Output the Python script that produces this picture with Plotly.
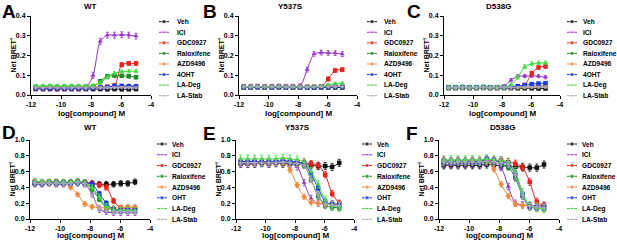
import plotly.graph_objects as go

# ---------------- data ----------------
LOG_DOSE = [-11.68, -11.20, -10.73, -10.25, -9.77, -9.29, -8.82, -8.34,
            -7.86, -7.38, -6.91, -6.43, -5.95, -5.48, -5.00]

SERIES_TOP = ["Veh", "ICI", "GDC0927", "Raloxifene", "AZD9496", "4OHT", "LA-Deg", "LA-Stab"]
SERIES_BOTTOM = ["Veh", "ICI", "GDC0927", "Raloxifene", "AZD9496", "OHT", "LA-Deg", "LA-Stab"]
PANEL_TITLES = ["WT", "Y537S", "D538G", "WT", "Y537S", "D538G"]
PANEL_LETTERS = ["A", "B", "C", "D", "E", "F"]
X_TICKS = [-12, -10, -8, -6, -4]
Y_TICKS_TOP = [0.0, 0.1, 0.2, 0.3, 0.4]
Y_TICKS_BOTTOM = [0.0, 0.2, 0.4, 0.6, 0.8, 1.0]

A_VALUES = {
    "Veh":        [0.031, 0.030, 0.031, 0.030, 0.030, 0.031, 0.030, 0.030, 0.030, 0.030, 0.029, 0.030, 0.029, 0.029, 0.030],
    "ICI":        [0.035, 0.036, 0.035, 0.035, 0.036, 0.035, 0.036, 0.037, 0.100, 0.272, 0.303, 0.303, 0.305, 0.303, 0.298],
    "GDC0927":    [0.036, 0.036, 0.037, 0.036, 0.036, 0.037, 0.036, 0.037, 0.038, 0.040, 0.042, 0.048, 0.153, 0.160, 0.160],
    "Raloxifene": [0.040, 0.040, 0.041, 0.040, 0.040, 0.041, 0.040, 0.041, 0.042, 0.070, 0.095, 0.098, 0.097, 0.095, 0.090],
    "AZD9496":    [0.040, 0.041, 0.040, 0.041, 0.040, 0.040, 0.041, 0.041, 0.042, 0.042, 0.043, 0.044, 0.045, 0.045, 0.045],
    "4OHT":       [0.035, 0.035, 0.035, 0.036, 0.035, 0.035, 0.036, 0.035, 0.036, 0.038, 0.040, 0.045, 0.046, 0.045, 0.044],
    "LA-Deg":     [0.046, 0.046, 0.047, 0.046, 0.046, 0.047, 0.046, 0.046, 0.048, 0.062, 0.090, 0.110, 0.118, 0.120, 0.120],
    "LA-Stab":    [0.036, 0.036, 0.037, 0.036, 0.036, 0.036, 0.037, 0.036, 0.037, 0.037, 0.037, 0.038, 0.038, 0.038, 0.037],
}
B_VALUES = {
    "Veh":        [0.038, 0.038, 0.039, 0.038, 0.038, 0.039, 0.038, 0.038, 0.038, 0.038, 0.037, 0.038, 0.038, 0.038, 0.038],
    "ICI":        [0.042, 0.042, 0.043, 0.042, 0.042, 0.043, 0.042, 0.042, 0.045, 0.128, 0.208, 0.215, 0.213, 0.212, 0.207],
    "GDC0927":    [0.041, 0.041, 0.042, 0.041, 0.041, 0.042, 0.041, 0.041, 0.041, 0.041, 0.041, 0.042, 0.081, 0.124, 0.128],
    "Raloxifene": [0.040, 0.040, 0.041, 0.040, 0.040, 0.041, 0.040, 0.040, 0.040, 0.040, 0.040, 0.041, 0.042, 0.043, 0.043],
    "AZD9496":    [0.041, 0.041, 0.042, 0.041, 0.041, 0.042, 0.041, 0.041, 0.041, 0.041, 0.042, 0.043, 0.048, 0.046, 0.045],
    "4OHT":       [0.040, 0.040, 0.041, 0.040, 0.040, 0.041, 0.040, 0.040, 0.040, 0.040, 0.040, 0.041, 0.042, 0.042, 0.042],
    "LA-Deg":     [0.042, 0.042, 0.043, 0.042, 0.042, 0.043, 0.042, 0.042, 0.042, 0.042, 0.043, 0.044, 0.050, 0.058, 0.060],
    "LA-Stab":    [0.041, 0.041, 0.042, 0.041, 0.041, 0.042, 0.041, 0.041, 0.041, 0.041, 0.041, 0.042, 0.042, 0.042, 0.042],
}
C_VALUES = {
    "Veh":        [0.035, 0.035, 0.036, 0.035, 0.035, 0.036, 0.035, 0.035, 0.035, 0.035, 0.034, 0.034, 0.034, 0.033, 0.033],
    "ICI":        [0.038, 0.038, 0.039, 0.038, 0.038, 0.039, 0.038, 0.038, 0.045, 0.075, 0.095, 0.096, 0.097, 0.095, 0.090],
    "GDC0927":    [0.037, 0.037, 0.038, 0.037, 0.037, 0.038, 0.037, 0.037, 0.038, 0.039, 0.042, 0.050, 0.110, 0.140, 0.145],
    "Raloxifene": [0.038, 0.038, 0.039, 0.038, 0.038, 0.039, 0.038, 0.038, 0.038, 0.039, 0.040, 0.042, 0.044, 0.045, 0.045],
    "AZD9496":    [0.038, 0.038, 0.039, 0.038, 0.038, 0.039, 0.038, 0.038, 0.039, 0.040, 0.041, 0.042, 0.044, 0.045, 0.045],
    "4OHT":       [0.039, 0.039, 0.040, 0.039, 0.039, 0.040, 0.039, 0.039, 0.040, 0.041, 0.045, 0.050, 0.055, 0.058, 0.060],
    "LA-Deg":     [0.039, 0.039, 0.040, 0.039, 0.039, 0.040, 0.039, 0.039, 0.040, 0.050, 0.090, 0.143, 0.158, 0.162, 0.163],
    "LA-Stab":    [0.037, 0.037, 0.038, 0.037, 0.037, 0.038, 0.037, 0.037, 0.038, 0.038, 0.039, 0.040, 0.040, 0.040, 0.040],
}
D_VALUES = {
    "Veh":        [0.45, 0.45, 0.46, 0.45, 0.45, 0.46, 0.47, 0.46, 0.45, 0.44, 0.44, 0.44, 0.45, 0.45, 0.47],
    "ICI":        [0.44, 0.44, 0.45, 0.44, 0.44, 0.45, 0.45, 0.44, 0.32, 0.12, 0.09, 0.08, 0.08, 0.08, 0.08],
    "GDC0927":    [0.47, 0.46, 0.46, 0.47, 0.46, 0.46, 0.47, 0.46, 0.45, 0.43, 0.40, 0.23, 0.14, 0.14, 0.14],
    "Raloxifene": [0.46, 0.46, 0.46, 0.46, 0.46, 0.46, 0.46, 0.45, 0.38, 0.25, 0.14, 0.12, 0.11, 0.11, 0.11],
    "AZD9496":    [0.47, 0.46, 0.47, 0.46, 0.45, 0.40, 0.31, 0.19, 0.155, 0.145, 0.14, 0.14, 0.14, 0.15, 0.15],
    "OHT":        [0.46, 0.45, 0.46, 0.46, 0.46, 0.45, 0.46, 0.45, 0.44, 0.32, 0.20, 0.12, 0.11, 0.11, 0.11],
    "LA-Deg":     [0.48, 0.47, 0.47, 0.47, 0.47, 0.47, 0.48, 0.46, 0.40, 0.28, 0.16, 0.12, 0.11, 0.11, 0.11],
    "LA-Stab":    [0.45, 0.45, 0.45, 0.45, 0.45, 0.45, 0.46, 0.44, 0.30, 0.14, 0.10, 0.09, 0.09, 0.09, 0.09],
}
E_VALUES = {
    "Veh":        [0.70, 0.70, 0.70, 0.71, 0.70, 0.71, 0.70, 0.70, 0.70, 0.69, 0.68, 0.67, 0.67, 0.66, 0.71],
    "ICI":        [0.70, 0.69, 0.70, 0.70, 0.70, 0.70, 0.71, 0.70, 0.66, 0.46, 0.26, 0.20, 0.19, 0.19, 0.19],
    "GDC0927":    [0.73, 0.72, 0.73, 0.72, 0.73, 0.72, 0.73, 0.72, 0.72, 0.71, 0.70, 0.68, 0.56, 0.32, 0.20],
    "Raloxifene": [0.72, 0.72, 0.72, 0.71, 0.72, 0.72, 0.72, 0.72, 0.71, 0.68, 0.50, 0.29, 0.17, 0.15, 0.14],
    "AZD9496":    [0.72, 0.72, 0.71, 0.72, 0.72, 0.72, 0.72, 0.62, 0.43, 0.28, 0.21, 0.20, 0.19, 0.19, 0.19],
    "OHT":        [0.73, 0.73, 0.73, 0.72, 0.73, 0.73, 0.74, 0.73, 0.72, 0.70, 0.57, 0.39, 0.22, 0.19, 0.18],
    "LA-Deg":     [0.76, 0.76, 0.76, 0.76, 0.76, 0.76, 0.77, 0.76, 0.75, 0.72, 0.60, 0.44, 0.24, 0.17, 0.16],
    "LA-Stab":    [0.71, 0.71, 0.71, 0.71, 0.71, 0.71, 0.72, 0.71, 0.70, 0.68, 0.50, 0.30, 0.19, 0.18, 0.17],
}
F_VALUES = {
    "Veh":        [0.68, 0.68, 0.68, 0.68, 0.68, 0.68, 0.69, 0.68, 0.67, 0.67, 0.66, 0.66, 0.65, 0.65, 0.69],
    "ICI":        [0.70, 0.69, 0.70, 0.70, 0.70, 0.70, 0.72, 0.70, 0.65, 0.41, 0.20, 0.18, 0.17, 0.17, 0.17],
    "GDC0927":    [0.74, 0.73, 0.74, 0.73, 0.74, 0.73, 0.74, 0.74, 0.74, 0.72, 0.70, 0.65, 0.47, 0.22, 0.17],
    "Raloxifene": [0.72, 0.72, 0.72, 0.72, 0.72, 0.72, 0.73, 0.72, 0.70, 0.66, 0.52, 0.29, 0.15, 0.14, 0.13],
    "AZD9496":    [0.73, 0.73, 0.73, 0.73, 0.73, 0.73, 0.74, 0.63, 0.44, 0.29, 0.19, 0.17, 0.17, 0.17, 0.16],
    "OHT":        [0.73, 0.73, 0.73, 0.73, 0.73, 0.73, 0.76, 0.74, 0.72, 0.70, 0.56, 0.31, 0.16, 0.15, 0.15],
    "LA-Deg":     [0.75, 0.75, 0.75, 0.75, 0.75, 0.75, 0.76, 0.75, 0.74, 0.72, 0.60, 0.34, 0.17, 0.14, 0.13],
    "LA-Stab":    [0.72, 0.72, 0.72, 0.72, 0.72, 0.72, 0.73, 0.72, 0.71, 0.69, 0.55, 0.30, 0.16, 0.15, 0.14],
}

# error bar half-widths (SEM), one per series, in series order
A_ERR = [0.004, 0.015, 0.010, 0.008, 0.005, 0.005, 0.008, 0.004]
B_ERR = [0.004, 0.012, 0.010, 0.004, 0.004, 0.004, 0.006, 0.004]
C_ERR = [0.004, 0.008, 0.010, 0.004, 0.004, 0.005, 0.010, 0.004]
D_ERR = [0.035, 0.035, 0.035, 0.030, 0.030, 0.030, 0.035, 0.030]
E_ERR = [0.045, 0.040, 0.040, 0.040, 0.035, 0.035, 0.050, 0.040]
F_ERR = [0.045, 0.040, 0.045, 0.040, 0.035, 0.040, 0.050, 0.040]

# ---------------- styles ----------------
COLORS = ["#111111", "#9333C8", "#E8231F", "#1E8A2A", "#F28A3A", "#1C3BE6", "#3EDB3E", "#A9A6B8"]
SYMBOLS = ["square", "triangle-up", "square", "square", "diamond", "square", "triangle-up", "triangle-down"]
FONT = "Liberation Sans, Arial, sans-serif"
W, H = 617, 240

# panel plot areas in pixels: (left, right, top, bottom)
PANELS = [
    (31, 151, 16, 95), (239, 357, 16, 95), (444, 560, 16, 95),
    (30, 150, 140, 219), (236, 354, 140, 219), (439, 559, 140, 219),
]
XTITLE_OFFSET = [18, 18, 18, 16, 16, 16]
LEGEND_POS = [  # (glyph center x, text x, first row y, row step)
    (164, 175, 21.7, 10.57), (372, 382, 21.7, 10.57), (572, 581, 21.7, 10.57),
    (162, 170, 144.0, 10.76), (367, 375, 144.0, 10.76), (572, 580, 144.0, 10.76),
]
TITLE_POS = [(90, 6), (290, 6), (498, 6), (90, 127), (297, 127), (502, 127)]
LETTER_POS = [(9, 11), (210, 11), (414, 11), (9, 132), (209, 133), (412, 133)]

ALL_VALUES = [A_VALUES, B_VALUES, C_VALUES, D_VALUES, E_VALUES, F_VALUES]
ALL_ERR = [A_ERR, B_ERR, C_ERR, D_ERR, E_ERR, F_ERR]

fig = go.Figure()
layout = dict(
    width=W, height=H, autosize=False,
    margin=dict(l=0, r=0, t=0, b=0, autoexpand=False),
    paper_bgcolor="white", plot_bgcolor="rgba(0,0,0,0)",
    showlegend=False, font=dict(family=FONT, color="black"),
)
annotations = []

for p in range(6):
    left, right, top, bottom = PANELS[p]
    n = "" if p == 0 else str(p + 1)
    top_row = p < 3
    names = SERIES_TOP if top_row else SERIES_BOTTOM
    values = ALL_VALUES[p]
    errs = ALL_ERR[p]
    layout["xaxis" + n] = dict(
        domain=[left / W, right / W], anchor="y" + n, range=[-12, -4],
        tickvals=X_TICKS, ticktext=[str(v) for v in X_TICKS],
        showline=True, linecolor="black", linewidth=1, mirror=False,
        ticks="outside", ticklen=3, tickwidth=1, tickcolor="black",
        showgrid=False, zeroline=False,
        tickfont=dict(size=7, family=FONT, weight="bold", color="black"),
    )
    yt = Y_TICKS_TOP if top_row else Y_TICKS_BOTTOM
    layout["yaxis" + n] = dict(
        domain=[1 - bottom / H, 1 - top / H], anchor="x" + n,
        range=[0, yt[-1]], tickvals=yt, ticktext=["%.1f" % v for v in yt],
        showline=True, linecolor="black", linewidth=1,
        ticks="outside", ticklen=3, tickwidth=1, tickcolor="black",
        showgrid=False, zeroline=False,
        tickfont=dict(size=7, family=FONT, weight="bold", color="black"),
    )
    for k, name in enumerate(names):
        fig.add_trace(go.Scatter(
            x=LOG_DOSE, y=values[name], xaxis="x" + n, yaxis="y" + n,
            mode="lines+markers", line=dict(color=COLORS[k], width=1, shape="spline", smoothing=0.8),
            marker=dict(symbol=SYMBOLS[k], size=4.5, color=COLORS[k]),
            error_y=dict(type="constant", value=errs[k], color=COLORS[k], thickness=0.8, width=1.5),
            cliponaxis=False, name=name,
        ))
    # axis titles
    annotations.append(dict(
        x=(left + right) / 2, y=bottom + XTITLE_OFFSET[p], xref="x7", yref="y7",
        text="log[compound] M", showarrow=False,
        font=dict(size=8, family=FONT, weight="bold"),
    ))
    annotations.append(dict(
        x=left - 18, y=(top + bottom) / 2, xref="x7", yref="y7",
        text="Net BRET<sup>†</sup>", textangle=-90, showarrow=False,
        font=dict(size=7, family=FONT, weight="bold"),
    ))
    tx, ty = TITLE_POS[p]
    annotations.append(dict(x=tx, y=ty, xref="x7", yref="y7", text=PANEL_TITLES[p],
                            showarrow=False, font=dict(size=8, family=FONT, weight="bold")))
    lx, ly = LETTER_POS[p]
    annotations.append(dict(x=lx, y=ly, xref="x7", yref="y7", text=PANEL_LETTERS[p],
                            showarrow=False, font=dict(size=19, family=FONT, weight="bold")))
    # legend (key)
    gx, txx, gy0, step = LEGEND_POS[p]
    for k, name in enumerate(names):
        gy = gy0 + k * step
        fig.add_trace(go.Scatter(
            x=[gx - 5, gx, gx + 5], y=[gy, gy, gy], xaxis="x7", yaxis="y7",
            mode="lines+markers", line=dict(color=COLORS[k], width=1),
            marker=dict(symbol=SYMBOLS[k], size=[0, 4, 0], color=COLORS[k]),
            hoverinfo="skip", cliponaxis=False,
        ))
        annotations.append(dict(x=txx, y=gy, xref="x7", yref="y7", text=name,
                                xanchor="left", showarrow=False,
                                font=dict(size=6.6, family=FONT, weight="bold")))

layout["xaxis7"] = dict(domain=[0, 1], range=[0, W], visible=False, anchor="y7", fixedrange=True)
layout["yaxis7"] = dict(domain=[0, 1], range=[H, 0], visible=False, anchor="x7", fixedrange=True)
layout["annotations"] = annotations
fig.update_layout(**layout)

fig.write_html("out.html", config={"displayModeBar": False},
               post_script="document.body.style.margin='0';")
